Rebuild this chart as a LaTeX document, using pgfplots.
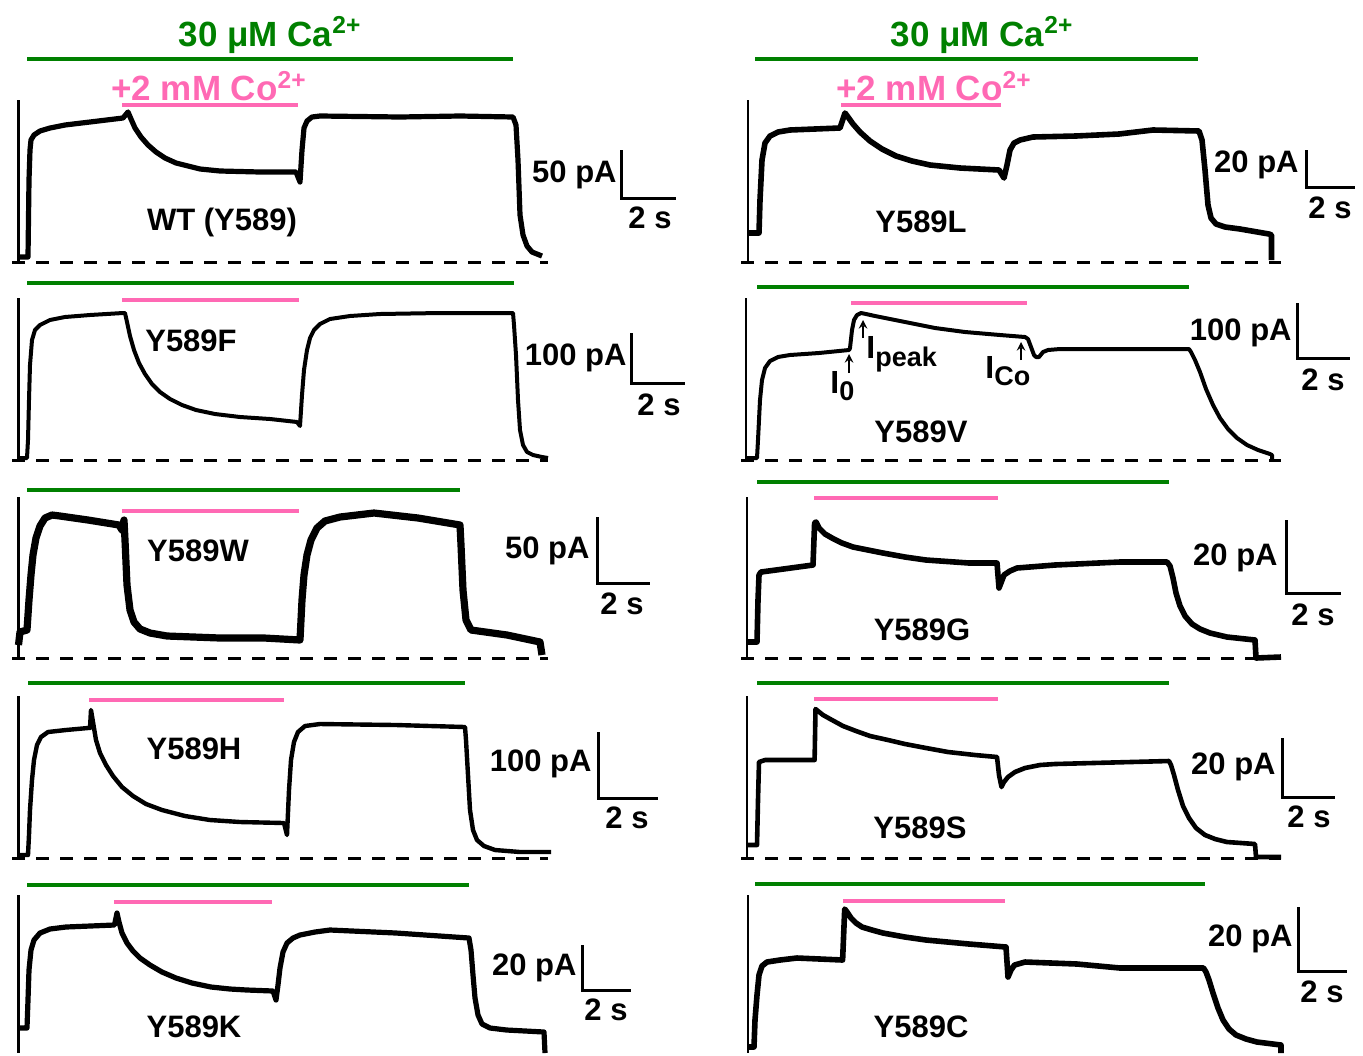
\documentclass[border=0pt]{standalone}
\usepackage{fontspec}
\setmainfont{Liberation Sans}
\usepackage{pgfplots}
\pgfplotsset{compat=1.18}
\definecolor{cagreen}{RGB}{0,128,0}
\definecolor{copink}{RGB}{255,105,180}
\newcommand{\Isub}[1]{I\raisebox{-0.45ex}{\fontsize{13.5}{14}\selectfont #1}}
\begin{document}
\begin{tikzpicture}[
  trace/.style={black, line width=2pt, line join=round},
  noisy/.style={black, line width=3.2pt, line join=round},
  stim/.style={black, line width=1.3pt},
  zero/.style={black, line width=1.5pt, dash pattern=on 6.5pt off 5.5pt},
  cabar/.style={cagreen, line width=2pt},
  cobar/.style={copink, line width=1.7pt},
  sbar/.style={black, line width=1.5pt},
  lab/.style={font=\fontsize{15.5}{18}\selectfont\bfseries},
  sc/.style={font=\fontsize{15.5}{18}\selectfont\bfseries, inner sep=0pt},
  tit/.style={font=\fontsize{17.5}{20}\selectfont\bfseries},
  ann/.style={font=\fontsize{16}{18}\selectfont\bfseries, anchor=west, inner sep=0pt},
]
\begin{axis}[scale only axis, width=681.5pt, height=526.5pt,
  xmin=0, xmax=1363, ymin=0, ymax=1053, y dir=reverse,
  axis lines=none, clip=false,
  every axis plot/.append style={mark=none},
]
\addplot[draw=none] coordinates {(0,0) (1363,1053)};

% ---------- titles ----------
\node[tit, text=cagreen] at (axis cs:270,35) {30 μM Ca\textsuperscript{2+}};
\node[tit, text=cagreen] at (axis cs:982,35) {30 μM Ca\textsuperscript{2+}};
\node[tit, text=copink] at (axis cs:209,86) {+2 mM Co\textsuperscript{2+}};
\node[tit, text=copink] at (axis cs:934,86) {+2 mM Co\textsuperscript{2+}};

% ---------- green (Ca) bars ----------
\addplot[cabar] coordinates {(27,59) (513,59)};
\addplot[cabar] coordinates {(755,59) (1198,59)};
\addplot[cabar] coordinates {(27,283) (514,283)};
\addplot[cabar] coordinates {(757,287) (1189,287)};
\addplot[cabar] coordinates {(27,490) (460,490)};
\addplot[cabar] coordinates {(757,482) (1169,482)};
\addplot[cabar] coordinates {(28,683) (465,683)};
\addplot[cabar] coordinates {(757,683) (1169,683)};
\addplot[cabar] coordinates {(27,885) (469,885)};
\addplot[cabar] coordinates {(755,884) (1205,884)};

% ---------- pink (Co) bars ----------
\addplot[cobar] coordinates {(122,105) (298,105)};
\addplot[cobar] coordinates {(841,105) (1001,105)};
\addplot[cobar] coordinates {(122,300) (299,300)};
\addplot[cobar] coordinates {(851,303) (1027,303)};
\addplot[cobar] coordinates {(122,511) (299,511)};
\addplot[cobar] coordinates {(814,498) (998,498)};
\addplot[cobar] coordinates {(89,700) (284,700)};
\addplot[cobar] coordinates {(814,699) (998,699)};
\addplot[cobar] coordinates {(114,902) (272,902)};
\addplot[cobar] coordinates {(843,901) (1005,901)};

% ---------- zero-current dashed lines ----------
\addplot[zero] coordinates {(12,262) (548,262)};
\addplot[zero] coordinates {(741,262) (1281,262)};
\addplot[zero] coordinates {(12,460) (548,460)};
\addplot[zero] coordinates {(741,460) (1281,460)};
\addplot[zero] coordinates {(12,658) (548,658)};
\addplot[zero] coordinates {(741,658) (1281,658)};
\addplot[zero] coordinates {(12,858) (548,858)};
\addplot[zero] coordinates {(741,858) (1281,858)};

% ---------- stimulus artefact lines ----------
\addplot[stim] coordinates {(18.5,100) (18.5,262)};
\addplot[stim] coordinates {(748,100) (748,262)};
\addplot[stim] coordinates {(18.5,298) (18.5,460)};
\addplot[stim] coordinates {(746,298) (746,460)};
\addplot[stim] coordinates {(18.5,497) (18.5,658)};
\addplot[stim] coordinates {(747,497) (747,658)};
\addplot[stim] coordinates {(18.5,696) (18.5,857)};
\addplot[stim] coordinates {(747,696) (747,857)};
\addplot[stim] coordinates {(18.5,895) (18.5,1053)};
\addplot[stim] coordinates {(748,895) (748,1053)};

% ---------- traces ----------
% WT (Y589)
\addplot[noisy, line width=2.6pt] coordinates {(18.5,257)(28,257)(29,180)(30,150)(31,140)(34,135)(40,131)(50,128)(65,125)(90,122)(123,118)(128,112)(131,119)(135,128)(141,137)(148,145)(156,152)(165,158)(176,163)(188,166)(200,169)(220,171)(260,172)(296,172)(300,182)(302,150)(304,128)(307,121)(312,117)(320,116)(400,117)(460,116)(513,117)(516,125)(518,160)(520,215)(523,235)(527,246)(532,252)(542,256)};
% Y589L
\addplot[noisy, line width=2.8pt] coordinates {(748,233)(759,233)(760,200)(762,160)(765,143)(770,136)(778,132)(790,130)(840,128)(845,113)(848,117)(853,124)(860,132)(870,141)(882,149)(896,156)(912,161)(930,165)(960,168)(999,170)(1004,178)(1007,165)(1010,150)(1014,143)(1020,140)(1033,137)(1076,136)(1119,134)(1153,130)(1199,131)(1202,140)(1205,170)(1208,205)(1211,218)(1216,224)(1225,227)(1240,229)(1269,234)(1271.5,235)(1271.5,260)};
% Y589F
\addplot[trace] coordinates {(18.5,458)(27,458)(28,440)(29,400)(30,365)(32,340)(35,330)(40,325)(50,320)(65,317)(90,315)(123,313)(125,313)(127,322)(130,336)(134,350)(139,363)(145,374)(152,384)(160,392)(170,399)(182,405)(196,410)(215,414)(240,417)(270,419)(297,422)(300,426)(302,395)(304,370)(307,350)(310,338)(314,330)(320,324)(330,319)(350,316)(380,314)(440,313)(513,313)(514,325)(516,355)(518,400)(520,430)(523,445)(527,452)(533,455)(542,457)(548,458)};
% Y589V
\addplot[trace] coordinates {(746,458)(757,458)(758,440)(760,400)(762,380)(765,368)(770,361)(778,357)(790,355)(819,353)(849,350)(850,348)(852,330)(854,320)(857,315)(861,313)(866,314)(875,316)(890,319)(910,323)(935,328)(965,332)(1000,335)(1025,337)(1028,339)(1031,347)(1034,355)(1036,357)(1039,357)(1043,352)(1048,350)(1060,349)(1189,349)(1191,352)(1195,360)(1200,372)(1206,389)(1213,405)(1220,418)(1228,429)(1237,438)(1247,445)(1258,450)(1270,454)(1272,455)(1272,460)};
% Y589W
\addplot[noisy, line width=3.6pt] coordinates {(18.5,645)(20,632)(27,630)(29,600)(31,575)(33,555)(36,538)(40,526)(45,518)(52,515)(60,516)(88,520)(119,525)(122,530)(124,520)(125,540)(127,585)(130,610)(134,622)(140,629)(150,633)(167,636)(220,638)(264,638)(300,640)(302,600)(304,575)(307,555)(311,540)(317,528)(325,521)(340,517)(374,513)(418,518)(460,525)(461,545)(463,590)(466,620)(471,630)(507,635)(540,642)(542,655)};
% Y589G
\addplot[noisy, line width=2.8pt] coordinates {(747,642)(757,642)(758,600)(759,575)(761,572)(776,570)(813,565)(814.6,523)(816,522)(819,528)(825,534)(832,538)(842,543)(853,547)(868,550)(883,553)(905,557)(926,560)(969,563)(997,563)(999,588)(1004,575)(1010,571)(1017,568)(1055,565)(1120,562)(1167,562)(1170,566)(1173,578)(1176,593)(1180,606)(1185,616)(1192,624)(1200,629)(1210,633)(1227,637)(1255,640)(1256,658)(1281,657)};
% Y589H
\addplot[trace, line width=2.2pt] coordinates {(18.5,855)(28,855)(29,835)(30,810)(32,780)(34,760)(37,745)(41,737)(48,732)(66,730)(88,728)(90,728)(91,710)(93,722)(96,740)(100,753)(106,765)(113,776)(122,787)(133,796)(146,804)(162,810)(185,816)(210,820)(240,822)(284,823)(287,835)(289,790)(291,760)(294,742)(298,732)(305,726)(320,724)(396,725)(465,727)(466,740)(468,775)(470,810)(473,830)(477,840)(484,846)(495,850)(520,852)(551,852)};
% Y589S
\addplot[trace, line width=2.3pt] coordinates {(747,845)(757,845)(758,800)(759,762)(765,760)(813,760)(814.6,760)(815.5,709)(818,711)(823,715)(832,720)(843,726)(856,731)(870,736)(888,740)(905,744)(926,748)(948,752)(975,755)(997,757)(999,775)(1001.5,787)(1004,782)(1008,777)(1015,772)(1025,768)(1040,765)(1055,764)(1169,761)(1171,765)(1174,775)(1178,790)(1183,806)(1189,818)(1196,828)(1205,835)(1215,839)(1227,842)(1255,844)(1256,857)(1281,857)};
% Y589K
\addplot[noisy, line width=2.6pt] coordinates {(18.5,1028)(27,1028)(28,1000)(29,970)(31,950)(34,940)(40,933)(50,929)(66,927)(114.5,925)(117,913)(119,922)(122,933)(127,943)(133,951)(140,958)(150,965)(162,972)(176,978)(192,983)(211,987)(230,989)(247,990)(273,991)(276,1000)(278,985)(280,968)(283,952)(287,943)(293,938)(300,935)(315,932)(330,930)(396,933)(469,938)(471,950)(473,975)(475,998)(478,1015)(482,1024)(490,1028)(506.6,1030)(544,1032)(545,1053)};
% Y589C
\addplot[noisy, line width=2.8pt] coordinates {(748,1047)(754,1047)(755,1020)(757,995)(759,975)(762,966)(767,962)(780,960)(797,958)(842.6,960)(844.7,909)(847,912)(851,918)(856,923)(862,927)(872,930)(883,933)(905,937)(926,940)(969,944)(1006,947)(1008,977)(1011,970)(1014.5,965)(1025,962)(1077,964)(1120,968)(1203.5,968)(1206,972)(1209,980)(1213,993)(1218,1008)(1223,1020)(1229,1029)(1236,1035)(1246,1039)(1257,1042)(1281,1045)(1281,1053)};

% ---------- scale bars ----------
\addplot[sbar] coordinates {(621,150) (621,198) (676,198)};
\addplot[sbar] coordinates {(1306,150) (1306,187) (1355,187)};
\addplot[sbar] coordinates {(631,333) (631,383) (685,383)};
\addplot[sbar] coordinates {(1297,303) (1297,358) (1350,358)};
\addplot[sbar] coordinates {(597,517) (597,583) (650,583)};
\addplot[sbar] coordinates {(1286,520) (1286,593) (1341,593)};
\addplot[sbar] coordinates {(598,732) (598,798) (658,798)};
\addplot[sbar] coordinates {(1282,738) (1282,797) (1335,797)};
\addplot[sbar] coordinates {(582,945) (582,990) (631,990)};
\addplot[sbar] coordinates {(1298,907) (1298,971) (1347,971)};

\node[sc, anchor=east] at (axis cs:617,175) {50 pA};
\node[sc] at (axis cs:650,218) {2 s};
\node[sc, anchor=east] at (axis cs:1299,165) {20 pA};
\node[sc] at (axis cs:1330,208) {2 s};
\node[sc, anchor=east] at (axis cs:627,358) {100 pA};
\node[sc] at (axis cs:659,405) {2 s};
\node[sc, anchor=east] at (axis cs:1292,333) {100 pA};
\node[sc] at (axis cs:1323,380) {2 s};
\node[sc, anchor=east] at (axis cs:590,551) {50 pA};
\node[sc] at (axis cs:622,604) {2 s};
\node[sc, anchor=east] at (axis cs:1278,558) {20 pA};
\node[sc] at (axis cs:1313,615) {2 s};
\node[sc, anchor=east] at (axis cs:592,764) {100 pA};
\node[sc] at (axis cs:627,818) {2 s};
\node[sc, anchor=east] at (axis cs:1276,767) {20 pA};
\node[sc] at (axis cs:1309,817) {2 s};
\node[sc, anchor=east] at (axis cs:577,968) {20 pA};
\node[sc] at (axis cs:606,1010) {2 s};
\node[sc, anchor=east] at (axis cs:1293,939) {20 pA};
\node[sc] at (axis cs:1322,992) {2 s};

% ---------- mutant labels ----------
\node[lab] at (axis cs:222,222) {WT (Y589)};
\node[lab] at (axis cs:921,222) {Y589L};
\node[lab] at (axis cs:191,341) {Y589F};
\node[lab] at (axis cs:921,432) {Y589V};
\node[lab] at (axis cs:198,551) {Y589W};
\node[lab] at (axis cs:922,630) {Y589G};
\node[lab] at (axis cs:194,749) {Y589H};
\node[lab] at (axis cs:920,828) {Y589S};
\node[lab] at (axis cs:194,1027) {Y589K};
\node[lab] at (axis cs:921,1027) {Y589C};

% ---------- annotations in Y589V ----------
\draw[-stealth, line width=0.9pt] (axis cs:849,373) -- (axis cs:849,354);
\draw[-stealth, line width=0.9pt] (axis cs:863,338) -- (axis cs:863,320);
\draw[-stealth, line width=0.9pt] (axis cs:1021,360) -- (axis cs:1021,342);
\node[ann] at (axis cs:830,386) {\Isub{0}};
\node[ann] at (axis cs:866,354) {\Isub{peak}};
\node[ann] at (axis cs:985,371) {\Isub{Co}};
\end{axis}
\end{tikzpicture}
\end{document}
